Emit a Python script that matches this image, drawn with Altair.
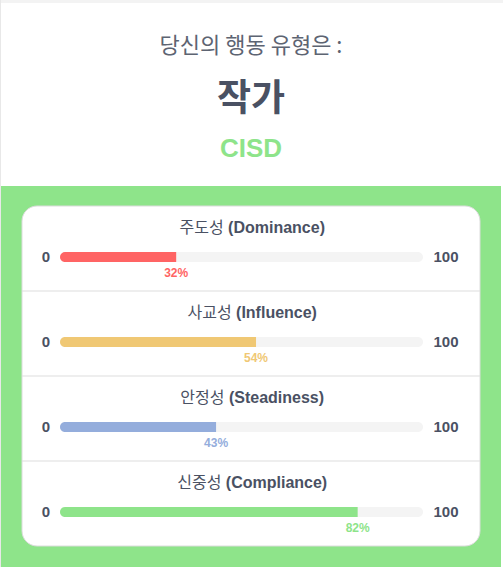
import altair as alt
import pandas as pd

# ---- data ----
categories = ["주도성 (Dominance)", "사교성 (Influence)", "안정성 (Steadiness)", "신중성 (Compliance)"]
kor_names = ["주도성", "사교성", "안정성", "신중성"]
eng_names = ["(Dominance)", "(Influence)", "(Steadiness)", "(Compliance)"]
scores = [32, 54, 43, 82]
bar_colors = ["#ff6464", "#f0c874", "#94addc", "#8ee48a"]
heading = "당신의 행동 유형은 :"
type_name = "작가"
type_code = "CISD"
axis_min_label = "0"
axis_max_label = "100"

FONT = "Liberation Sans, Arial, Noto Sans CJK KR, sans-serif"
KFONT = "Noto Sans CJK KR, sans-serif"
DARK = "#4a5163"
GREEN = "#8ee48a"
TITLE_SIZE = 16
CENTER = 251

# approximate text metrics (Arial/Liberation Sans Bold, per 1000 em) to center the two-weight titles
_bw = {" ": 278, "(": 333, ")": 333, "D": 722, "o": 611, "m": 889, "i": 278, "n": 611, "a": 556,
       "c": 556, "e": 556, "I": 278, "f": 333, "l": 278, "u": 611, "S": 667, "t": 333, "d": 611,
       "s": 556, "C": 722, "p": 611}
def eng_w(s):
    return sum(_bw.get(ch, 600) for ch in s) * TITLE_SIZE / 1000.0
def kor_w(s):
    return len(s) * TITLE_SIZE * 0.97
space_w = 278 * TITLE_SIZE / 1000.0

df = pd.DataFrame({
    "cat": categories,
    "kor": kor_names,
    "eng": eng_names,
    "row": list(range(len(categories))),
    "score": scores,
    "lo": [0] * len(categories),
    "hi": [100] * len(categories),
    "minlab": [axis_min_label] * len(categories),
    "maxlab": [axis_max_label] * len(categories),
})
df["pct"] = df["score"].astype(str) + "%"
tot = [kor_w(k) + space_w + eng_w(e) for k, e in zip(kor_names, eng_names)]
df["kx"] = [CENTER - t / 2 + kor_w(k) for t, k in zip(tot, kor_names)]
df["ex"] = df["kx"] + space_w

xs = alt.Scale(domain=[0, 100], range=[60, 423], nice=False, zero=False, padding=0)
ys = alt.Scale(domain=[0, 3], range=[257, 512], nice=False, zero=False, padding=0)
X = lambda f: alt.X(f, type="quantitative", scale=xs, axis=None)
Y = alt.Y("row:Q", scale=ys, axis=None)
col = alt.Color("cat:N", scale=alt.Scale(domain=categories, range=bar_colors), legend=None)

one = alt.Data(values=[{"a": 1}])
base = alt.Chart(df)

# decorative background
top_shadow = alt.Chart(one).mark_rect(color="#f3f3f3").encode(
    x=alt.value(0), x2=alt.value(503), y=alt.value(0), y2=alt.value(3))
left_line = alt.Chart(one).mark_rect(color="#e8e8e8").encode(
    x=alt.value(0), x2=alt.value(1), y=alt.value(0), y2=alt.value(567))
green_bg = alt.Chart(one).mark_rect(color=GREEN).encode(
    x=alt.value(1), x2=alt.value(501), y=alt.value(186), y2=alt.value(567))
card = alt.Chart(one).mark_rect(color="white", cornerRadius=15, stroke="#dcdcdc", strokeWidth=1).encode(
    x=alt.value(22), x2=alt.value(480), y=alt.value(206), y2=alt.value(546))
seps = base.transform_filter("datum.row < 3").transform_calculate(sep="datum.row + 0.4").mark_rule(
    color="#dddddd", strokeWidth=1).encode(
    x=alt.value(22), x2=alt.value(480),
    y=alt.Y("sep:Q", scale=ys, axis=None))

# header texts
head1 = alt.Chart(one).mark_text(font=KFONT, fontSize=22, fontWeight="normal", color="#5d6472", baseline="middle", align="center").encode(
    x=alt.value(CENTER), y=alt.value(46), text=alt.value(heading))
head2 = alt.Chart(one).mark_text(font=KFONT, fontSize=37, fontWeight="bold", color=DARK, baseline="middle", align="center").encode(
    x=alt.value(CENTER), y=alt.value(100), text=alt.value(type_name))
head3 = alt.Chart(one).mark_text(font=FONT, fontSize=26, fontWeight="bold", color=GREEN, baseline="middle", align="center").encode(
    x=alt.value(CENTER), y=alt.value(149), text=alt.value(type_code))

# bars
track = base.mark_bar(color="#f4f4f4", size=10, orient="horizontal", cornerRadius=5).encode(
    x=X("lo"), x2="hi", y=Y)
fill = base.mark_bar(size=10, orient="horizontal", cornerRadiusTopLeft=5, cornerRadiusBottomLeft=5).encode(
    x=X("lo"), x2="score", y=Y, color=col)

titles_k = base.mark_text(font=KFONT, fontSize=TITLE_SIZE, fontWeight="normal", color=DARK,
                          baseline="middle", align="right", dy=-29).encode(
    x=alt.X("kx:Q", scale=None, axis=None), y=Y, text="kor:N")
titles_e = base.mark_text(font=FONT, fontSize=TITLE_SIZE, fontWeight="bold", color=DARK,
                          baseline="middle", align="left", dy=-29).encode(
    x=alt.X("ex:Q", scale=None, axis=None), y=Y, text="eng:N")
minl = base.mark_text(font=FONT, fontSize=15, fontWeight="bold", color=DARK, baseline="middle", align="center", dx=-14).encode(
    x=X("lo"), y=Y, text="minlab:N")
maxl = base.mark_text(font=FONT, fontSize=15, fontWeight="bold", color=DARK, baseline="middle", align="center", dx=23).encode(
    x=X("hi"), y=Y, text="maxlab:N")
pcts = base.mark_text(font=FONT, fontSize=12, fontWeight="bold", baseline="middle", align="center", dy=16).encode(
    x=X("score"), y=Y, text="pct:N", color=col)

chart = alt.layer(
    top_shadow, left_line, green_bg, card, seps, head1, head2, head3,
    track, fill, titles_k, titles_e, minl, maxl, pcts
).properties(
    width=503, height=567, padding=0, background="white",
    autosize=alt.AutoSizeParams(type="none")
).configure_view(stroke=None)

chart.save("out.html", embed_options={"renderer": "svg", "actions": False})
